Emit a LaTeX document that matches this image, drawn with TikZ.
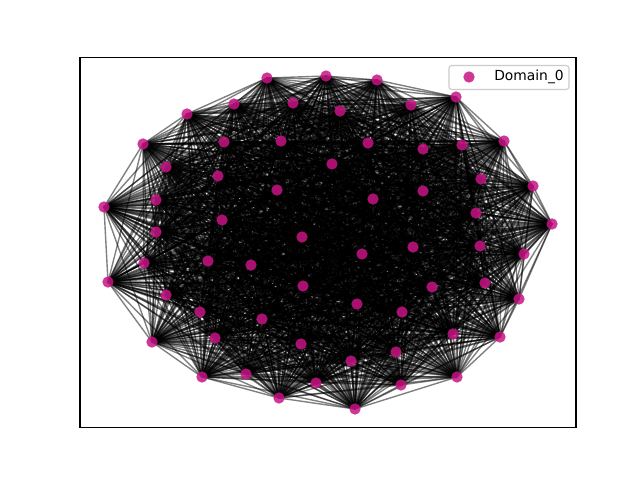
\documentclass[tikz,border=0pt]{standalone}
\usepackage{fontspec}
\setmainfont{DejaVu Sans}
\usepackage{tikz}
\usetikzlibrary{positioning}
\usepackage{xcolor}
\definecolor{domaincolor}{RGB}{199,21,133}
\definecolor{legendgray}{RGB}{204,204,204}

\tikzset{
  edge/.style={black,opacity=0.5,line width=1pt},
  vertex/.style={circle,fill=domaincolor,fill opacity=0.85,inner sep=0pt,minimum size=8.2pt},
}

\begin{document}
\begin{tikzpicture}[x=0.01in,y=-0.01in]
        \useasboundingbox (0,0) rectangle (640,480);
        \fill[white] (0,0) rectangle (640,480);
        % vertex positions (pixels)
        \foreach \px/\py [count=\i] in {
          267/78, 326/76, 377/80, 456/97, 234/104, 293/103, 340/111, 411/105,
          187/114, 143/144, 224/142, 281/141, 368/143, 423/149, 462/145, 504/141,
          166/167, 218/176, 332/164, 481/179, 533/186, 277/190, 423/191, 373/199,
          104/207, 156/200, 222/220, 476/213, 552/224, 156/232, 302/237, 413/247,
          480/246, 362/254, 524/254, 144/263, 208/261, 251/265, 108/282, 303/286,
          485/283, 432/287, 166/295, 519/299, 200/312, 262/319, 357/304, 402/312,
          215/338, 301/344, 152/342, 453/334, 500/337, 396/352, 351/361, 202/377,
          246/374, 316/383, 401/385, 457/377, 279/398, 355/409}
          \coordinate (p\i) at (\px,\py);
        % edges
        \foreach \i in {1,...,61} {
          \pgfmathtruncatemacro\k{\i+1}
          \foreach \j in {\k,...,62}
            \draw[edge] (p\i) -- (p\j);
        }
        % vertices
        \foreach \i in {1,...,62}
          \node[vertex] (v\i) at (p\i) {};
        % axes frame
        \draw[black,line width=0.8pt] (80,57.6) rectangle (576,427.2);
        % legend
        \draw[legendgray,fill=white,fill opacity=0.8,line width=0.8pt,rounded corners=2pt]
          (449,65.5) rectangle (569,89.5);
        \node[vertex] (legdot) at (469,77) {};
        \node[anchor=west,font=\fontsize{10pt}{12pt}\selectfont,inner sep=0pt]
          (legtext) at (494,77) {Domain\_0};
\end{tikzpicture}
\end{document}
